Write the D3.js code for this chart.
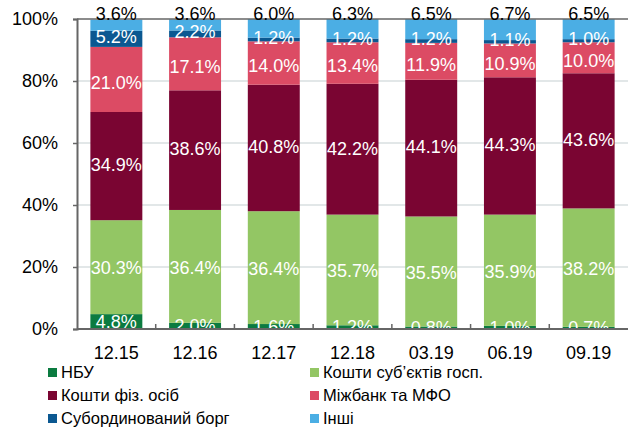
<!DOCTYPE html>
<html>
<head>
<meta charset="utf-8">
<script src="https://cdn.jsdelivr.net/npm/d3@7"></script>
<style>
    body { margin: 0; background: #fff; }
    text { font-family: 'Liberation Sans', Arial, sans-serif; }
</style>
</head>
<body>
<script>
// Categories (dates) and series values, bottom to top of each bar
const dates = ['12.15', '12.16', '12.17', '12.18', '03.19', '06.19', '09.19'];
const nbu = [4.8, 2.0, 1.6, 1.2, 0.8, 1.0, 0.7];
const business = [30.3, 36.4, 36.4, 35.7, 35.5, 35.9, 38.2];
const households = [34.9, 38.6, 40.8, 42.2, 44.1, 44.3, 43.6];
const interbank = [21.0, 17.1, 14.0, 13.4, 11.9, 10.9, 10.0];
const subDebt = [5.2, 2.2, 1.2, 1.2, 1.2, 1.1, 1.0];
const other = [3.6, 3.6, 6.0, 6.3, 6.5, 6.7, 6.5];
const yTicks = [0, 20, 40, 60, 80, 100];

const seriesNames = ['НБУ', 'Кошти суб’єктів госп.', 'Кошти фіз. осіб', 'Міжбанк та МФО', 'Субординований борг', 'Інші'];
const seriesValues = [nbu, business, households, interbank, subDebt, other];
const colors = ['#0b7b40', '#93c664', '#7a0532', '#dc4b64', '#0b5891', '#4baee4'];
// small vertical nudges of the value labels (px), per series, so they don't collide
const labelNudge = [0, 1, -1, 3, -2, 0];

const margin = { top: 19, bottom: 98, left: 77, right: 0 };
const W = 628, H = 427;
const width = W - margin.left - margin.right;
const height = H - margin.top - margin.bottom;

const svg = d3.select('body').append('svg').attr('width', W).attr('height', H);
const g = svg.append('g').attr('transform', `translate(${margin.left},${margin.top})`);

// build rows for d3.stack
const keys = seriesNames.map((d, i) => 'k' + i);
const rows = dates.map((d, j) => {
    const r = { date: d };
    keys.forEach((k, i) => (r[k] = seriesValues[i][j]));
    return r;
});
const stacked = d3.stack().keys(keys)(rows);

// scales
const xscale = d3.scaleBand().domain(dates).range([0, width]).paddingInner(0.34).paddingOuter(0.17);
const yscale = d3.scaleLinear().domain([0, 100]).range([height, 0]);

// gridlines
g.selectAll('line.grid')
    .data(yTicks.filter((t) => t > 0 && t < 100))
    .join('line')
    .attr('class', 'grid')
    .attr('x1', 0)
    .attr('x2', width)
    .attr('y1', (d) => yscale(d))
    .attr('y2', (d) => yscale(d))
    .attr('stroke', '#c6cfd1')
    .attr('stroke-width', 1.2);

// bars
const layers = g.selectAll('g.layer')
    .data(stacked)
    .join('g')
    .attr('class', 'layer')
    .attr('fill', (d, i) => colors[i]);

layers.selectAll('rect')
    .data((d) => d)
    .join('rect')
    .attr('x', (d) => xscale(d.data.date))
    .attr('width', xscale.bandwidth())
    .attr('y', (d) => yscale(d[1]))
    .attr('height', (d) => yscale(d[0]) - yscale(d[1]));

// top line at 100%
g.append('line')
    .attr('x1', 0).attr('x2', width)
    .attr('y1', yscale(100)).attr('y2', yscale(100))
    .attr('stroke', '#666').attr('stroke-width', 1.5);

// clip for value labels
svg.append('clipPath').attr('id', 'plotclip')
    .append('rect').attr('x', -10).attr('y', -30).attr('width', width + 20).attr('height', height + 30);

const labels = g.append('g').attr('clip-path', 'url(#plotclip)');
stacked.forEach((layer, i) => {
    labels.selectAll(null)
        .data(layer)
        .join('text')
        .attr('x', (d) => xscale(d.data.date) + xscale.bandwidth() / 2)
        .attr('y', (d) => (i === 5 ? yscale(100) - 5 : yscale((d[0] + d[1]) / 2) + labelNudge[i]))
        .attr('dy', '0.35em')
        .attr('text-anchor', 'middle')
        .attr('font-size', 18)
        .attr('fill', i === 5 ? '#000' : '#fff')
        .text((d) => d3.format('.1f')(d[1] - d[0]) + '%');
});

// y axis
const yaxis = d3.axisLeft(yscale).tickValues(yTicks).tickFormat((d) => d + '%').tickSize(4).tickPadding(15);
const g_yaxis = g.append('g').call(yaxis);
g_yaxis.select('.domain').attr('stroke', '#666').attr('stroke-width', 2);
g_yaxis.selectAll('.tick line').attr('stroke', '#666').attr('stroke-width', 1.5);
g_yaxis.selectAll('.tick text').attr('font-size', 18).attr('fill', '#000')
    .style('font-family', "'Liberation Sans', Arial, sans-serif");

// x axis
const g_xaxis = g.append('g').attr('transform', `translate(0,${height})`);
g_xaxis.append('line').attr('x1', 0).attr('x2', width).attr('stroke', '#666').attr('stroke-width', 2);
g_xaxis.selectAll('line.tk')
    .data(dates.slice(1))
    .join('line')
    .attr('class', 'tk')
    .attr('x1', (d) => xscale(d) - (xscale.step() - xscale.bandwidth()) / 2)
    .attr('x2', (d) => xscale(d) - (xscale.step() - xscale.bandwidth()) / 2)
    .attr('y1', 0).attr('y2', -5)
    .attr('stroke', '#666').attr('stroke-width', 1.5);
g_xaxis.selectAll('text')
    .data(dates)
    .join('text')
    .attr('x', (d) => xscale(d) + xscale.bandwidth() / 2)
    .attr('y', 24)
    .attr('dy', '0.35em')
    .attr('text-anchor', 'middle')
    .attr('font-size', 18)
    .text((d) => d);

// legend (two columns, three rows)
const legend = svg.append('g');
const item = legend.selectAll('g')
    .data(seriesNames)
    .join('g')
    .attr('transform', (d, i) => `translate(${i % 2 === 0 ? 48 : 310},${372 + Math.floor(i / 2) * 23})`);
item.append('rect').attr('x', 0).attr('y', -4).attr('width', 9).attr('height', 9).attr('fill', (d, i) => colors[i]);
item.append('text').attr('x', 13).attr('dy', '0.35em').attr('font-size', 16.5).text((d) => d);
</script>
</body>
</html>
